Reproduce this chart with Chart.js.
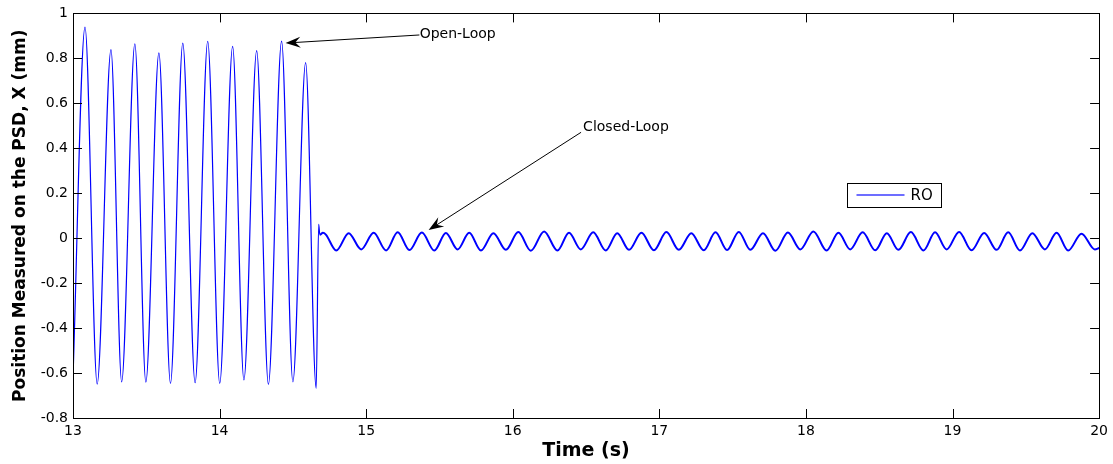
<!DOCTYPE html>
<html>
<head>
<meta charset="utf-8">
<script src="https://cdn.jsdelivr.net/npm/chart.js@4.4.1/dist/chart.umd.min.js"></script>
<style>
body { margin: 0; background: #fff; }
</style>
</head>
<body>
<canvas id="psd_chart" width="1113" height="464"></canvas>
<script>
// open loop: turning points of the oscillation, time (s) / position (mm)
var open_t = [13.000, 13.082, 13.165, 13.259, 13.332, 13.422, 13.497, 13.586, 13.665, 13.749, 13.833,
              13.919, 14.001, 14.089, 14.166, 14.253, 14.333, 14.423, 14.500, 14.587, 14.659, 14.676];
var open_x = [-0.620, 0.939, -0.649, 0.839, -0.639, 0.865, -0.641, 0.824, -0.646, 0.868, -0.643,
              0.876, -0.646, 0.853, -0.631, 0.834, -0.650, 0.877, -0.639, 0.781, -0.668, 0.062];

// closed loop after the controller switches on
var closed_t = [14.684, 14.705, 14.725,
                14.796, 14.881, 14.966, 15.051, 15.136, 15.215, 15.295, 15.380, 15.465, 15.544,
                15.624, 15.703, 15.783, 15.868, 15.953, 16.038, 16.123, 16.214, 16.305, 16.384,
                16.464, 16.549, 16.634, 16.713, 16.793, 16.878, 16.963, 17.048, 17.133, 17.218,
                17.303, 17.383, 17.462, 17.542, 17.621, 17.707, 17.792, 17.877, 17.962, 18.051,
                18.141, 18.222, 18.302, 18.387, 18.473, 18.552, 18.631, 18.716, 18.802, 18.881,
                18.960, 19.045, 19.130, 19.216, 19.301, 19.380, 19.460, 19.545, 19.630, 19.710,
                19.789, 19.880, 19.971, 20.000];
var closed_x = [0.015, 0.024, 0.016,
                -0.055, 0.022, -0.050, 0.024, -0.055, 0.026, -0.053, 0.025, -0.055, 0.023,
                -0.050, 0.024, -0.055, 0.022, -0.052, 0.027, -0.056, 0.030, -0.055, 0.024,
                -0.050, 0.026, -0.055, 0.022, -0.052, 0.024, -0.054, 0.027, -0.052, 0.022,
                -0.054, 0.026, -0.053, 0.028, -0.052, 0.022, -0.056, 0.025, -0.050, 0.030,
                -0.055, 0.024, -0.050, 0.026, -0.054, 0.022, -0.052, 0.027, -0.055, 0.026,
                -0.050, 0.028, -0.054, 0.023, -0.052, 0.026, -0.055, 0.022, -0.050, 0.024,
                -0.055, 0.020, -0.050, -0.044];

var x_ticks = [13, 14, 15, 16, 17, 18, 19, 20];
var y_ticks = [-0.8, -0.6, -0.4, -0.2, 0, 0.2, 0.4, 0.6, 0.8, 1];

var series_label = 'RO';
var series_color = '#0000ff';
var switch_time = closed_t[0];

var points = [];
open_t.forEach(function (t, i) { points.push({ x: t, y: open_x[i] }); });
closed_t.forEach(function (t, i) { points.push({ x: t, y: closed_x[i] }); });

var font_name = "'DejaVu Sans', 'Liberation Sans', sans-serif";

// matlab style frame: box around the axes with inward ticks, labelled arrows, boxed legend
var matlab_axes = {
    id: 'matlab_axes',
    afterDraw: function (chart, args, opts) {
        var ctx = chart.ctx;
        var area = chart.chartArea;
        var sx = chart.scales.x;
        var sy = chart.scales.y;
        var tl = opts.tickLength;

        ctx.save();
        ctx.strokeStyle = '#000';
        ctx.lineWidth = 1;
        ctx.beginPath();
        sx.ticks.forEach(function (tk) {
            var px = Math.round(sx.getPixelForValue(tk.value)) + 0.5;
            ctx.moveTo(px, area.bottom); ctx.lineTo(px, area.bottom - tl);
            ctx.moveTo(px, area.top); ctx.lineTo(px, area.top + tl);
        });
        sy.ticks.forEach(function (tk) {
            var py = Math.round(sy.getPixelForValue(tk.value)) + 0.5;
            ctx.moveTo(area.left, py); ctx.lineTo(area.left + tl, py);
            ctx.moveTo(area.right, py); ctx.lineTo(area.right - tl, py);
        });
        ctx.stroke();
        ctx.strokeRect(Math.round(area.left) + 0.5, Math.round(area.top) + 0.5,
                       Math.round(area.right - area.left), Math.round(area.bottom - area.top));

        // arrows
        ctx.font = '14px ' + font_name;
        ctx.fillStyle = '#000';
        ctx.textBaseline = 'middle';
        ctx.textAlign = 'left';
        opts.notes.forEach(function (n) {
            var x0 = sx.getPixelForValue(n.tail[0]), y0 = sy.getPixelForValue(n.tail[1]);
            var x1 = sx.getPixelForValue(n.tip[0]), y1 = sy.getPixelForValue(n.tip[1]);
            var ang = Math.atan2(y1 - y0, x1 - x0);
            var len = 15, half = 5.5;
            ctx.beginPath();
            ctx.moveTo(x0, y0);
            ctx.lineTo(x1 - Math.cos(ang) * 8, y1 - Math.sin(ang) * 8);
            ctx.stroke();
            ctx.save();
            ctx.translate(x1, y1);
            ctx.rotate(ang);
            ctx.beginPath();
            ctx.moveTo(0, 0);
            ctx.lineTo(-len, -half);
            ctx.lineTo(-len * 0.65, 0);
            ctx.lineTo(-len, half);
            ctx.closePath();
            ctx.fill();
            ctx.restore();
            ctx.fillText(n.text, sx.getPixelForValue(n.at[0]), sy.getPixelForValue(n.at[1]));
        });

        // legend box
        var lg = opts.legend;
        var bx = Math.round(area.left + lg.left * (area.right - area.left)) + 0.5;
        var by = Math.round(area.top + lg.top * (area.bottom - area.top)) + 0.5;
        ctx.fillStyle = '#fff';
        ctx.fillRect(bx, by, lg.width, lg.height);
        ctx.strokeStyle = '#000';
        ctx.strokeRect(bx, by, lg.width, lg.height);
        ctx.strokeStyle = 'rgba(60, 60, 255, 1)';
        ctx.lineWidth = 1.6;
        ctx.beginPath();
        ctx.moveTo(bx + 9, by + 11.5);
        ctx.lineTo(bx + 57, by + 11.5);
        ctx.stroke();
        ctx.fillStyle = '#000';
        ctx.font = '15px ' + font_name;
        ctx.fillText(chart.data.datasets[0].label, bx + 63, by + lg.height / 2 + 1);
        ctx.restore();
    }
};

var psd_chart = new Chart(document.getElementById('psd_chart'), {
    type: 'line',
    data: {
        datasets: [{
            label: series_label,
            data: points,
            borderColor: series_color,
            borderWidth: 1,
            pointRadius: 0,
            fill: false,
            cubicInterpolationMode: 'monotone',
            segment: {
                borderWidth: function (ctx) { return ctx.p0.parsed.x >= switch_time ? 2 : 1.2; }
            }
        }]
    },
    options: {
        responsive: false,
        animation: false,
        layout: { padding: { top: 13, right: 12, left: 0, bottom: 0 } },
        plugins: {
            legend: { display: false },
            tooltip: { enabled: false },
            matlab_axes: {
                tickLength: 9,
                notes: [
                    { text: 'Open-Loop', at: [15.365, 0.907], tail: [15.363, 0.904], tip: [14.450, 0.868] },
                    { text: 'Closed-Loop', at: [16.48, 0.493], tail: [16.466, 0.471], tip: [15.426, 0.036] }
                ],
                legend: { left: 0.754, top: 0.42, width: 94, height: 24 }
            }
        },
        scales: {
            x: {
                type: 'linear',
                min: 13,
                max: 20,
                afterBuildTicks: function (scale) {
                    scale.ticks = x_ticks.map(function (v) { return { value: v }; });
                },
                afterFit: function (scale) { scale.height = 46; },
                grid: { display: false, drawTicks: false },
                border: { display: false },
                ticks: {
                    padding: 5,
                    color: '#000',
                    maxRotation: 0,
                    font: { family: font_name, size: 14 }
                },
                title: {
                    display: true,
                    text: 'Time (s)',
                    color: '#000',
                    padding: { top: 0, bottom: 2 },
                    font: { family: font_name, size: 19, weight: 'bold' }
                }
            },
            y: {
                type: 'linear',
                min: -0.8,
                max: 1,
                afterBuildTicks: function (scale) {
                    scale.ticks = y_ticks.map(function (v) { return { value: v }; });
                },
                afterFit: function (scale) { scale.width = 73; },
                grid: { display: false, drawTicks: false },
                border: { display: false },
                ticks: {
                    padding: 5,
                    color: '#000',
                    font: { family: font_name, size: 14 },
                    callback: function (v) { return String(Math.round(v * 10) / 10); }
                },
                title: {
                    display: true,
                    text: 'Position Measured on the PSD, X (mm)',
                    color: '#000',
                    padding: { top: 10, bottom: 0 },
                    font: { family: font_name, size: 17, weight: 'bold' }
                }
            }
        }
    },
    plugins: [matlab_axes]
});
</script>
</body>
</html>
